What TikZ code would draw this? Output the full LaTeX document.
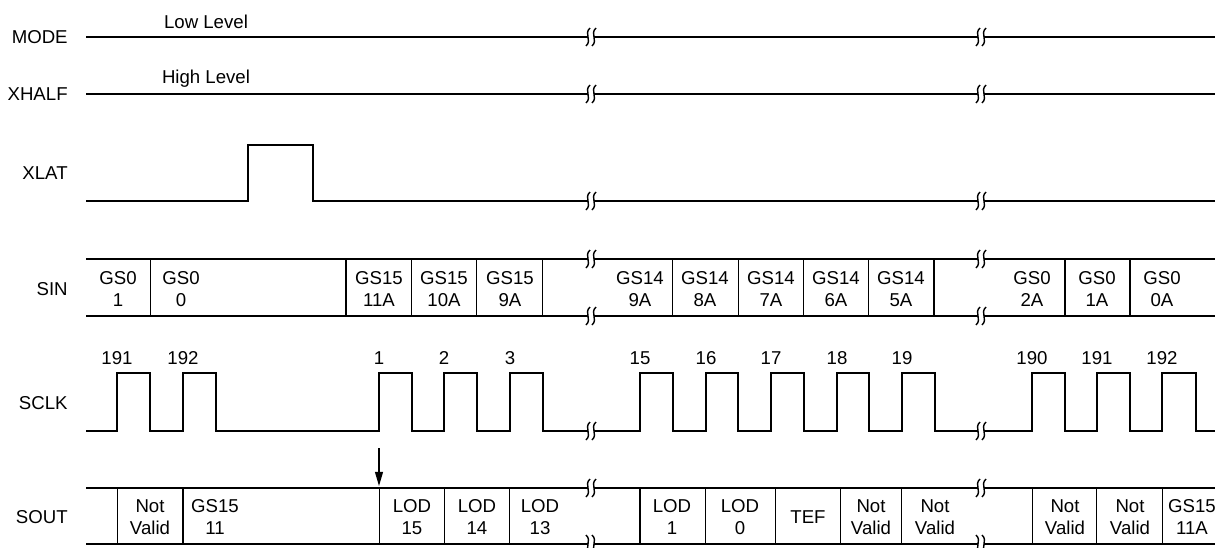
\documentclass[tikz,border=0pt]{standalone}
\usepackage{fontspec}
\setmainfont{Liberation Sans}
\usetikzlibrary{arrows.meta}

\begin{document}
\begin{tikzpicture}
[x=0.02cm, y=-0.02cm, font=\fontsize{10.6}{12.5}\selectfont,
    signal/.style={line width=1.4pt, line join=miter},
    divider/.style={line width=0.7pt},
    sname/.style={anchor=east, inner sep=0pt},
    cell/.style={align=center, inner sep=0pt},
    brk/.pic={
        \fill[white] (-3,-2.6) rectangle (3,2.6);
        \foreach \s in {-3,3}
            \draw[line width=0.8pt] (\s+2,-9) .. controls (\s-4.5,-3) and (\s+4.5,3) .. (\s-2,9);
    },
    ]
    \useasboundingbox (0,0) rectangle (1215,548);

    % signal names
    \node[sname] (mode)  at (68,37)  {MODE};
    \node[sname] (xhalf) at (68,94)  {XHALF};
    \node[sname] (xlat)  at (68,173) {XLAT};
    \node[sname] (sin)   at (68,289) {SIN};
    \node[sname] (sclk)  at (68,403) {SCLK};
    \node[sname] (sout)  at (68,517) {SOUT};

    % MODE, XHALF
    \draw[signal] (86,37) -- (1215,37);
    \node (low) at (206,22) {Low Level};
    \draw[signal] (86,94) -- (1215,94);
    \node (high) at (206,79) {High Level};

    % XLAT
    \draw[signal] (86,201) -- (248,201) -- (248,145) -- (313,145) -- (313,201) -- (1215,201);

    % SIN
    \draw[signal] (86,259) -- (1215,259);
    \draw[signal] (86,316) -- (1215,316);
    \foreach \x in {150.7,346,411.7,476.7,542.3,672.7,738.3,803.3,868.3,934,1065,1130}
        \draw[divider] (\x,259) -- (\x,316);
    \foreach \x/\t [count=\i] in {118/{GS0\\1}, 181/{GS0\\0}, 379/{GS15\\11A}, 444/{GS15\\10A},
        510/{GS15\\9A}, 640/{GS14\\9A}, 705/{GS14\\8A}, 771/{GS14\\7A}, 836/{GS14\\6A},
        901/{GS14\\5A}, 1032/{GS0\\2A}, 1097/{GS0\\1A}, 1162/{GS0\\0A}}
        \node[cell] (sin\i) at (\x,289) {\t};

    % SCLK
    \draw[signal] (86,431)
        \foreach \r/\f in {117/150, 183/216, 379/412, 444/477, 510/543, 640/673, 706/738,
            771/804, 837/869, 902/935, 1032/1065, 1097/1130, 1162/1196}
        { -- (\r,431) -- (\r,373) -- (\f,373) -- (\f,431) } -- (1215,431);
    \foreach \r/\t [count=\i] in {117/191, 183/192, 379/1, 444/2, 510/3, 640/15, 706/16,
        771/17, 837/18, 902/19, 1032/190, 1097/191, 1162/192}
        \node (clk\i) at (\r,358) {\t};

    % SOUT
    \draw[signal] (86,488) -- (1215,488);
    \draw[signal] (86,544) -- (1215,544);
    \foreach \x in {117.7,183,379.3,444.3,509.3,640,705.5,775.5,840.7,901.3,1032.3,1096.7,1162.3}
        \draw[divider] (\x,488) -- (\x,544);
    \foreach \x/\t [count=\i] in {150/{Not\\Valid}, 215/{GS15\\11}, 412/{LOD\\15}, 477/{LOD\\14},
        540/{LOD\\13}, 672/{LOD\\1}, 740/{LOD\\0}, 808/{TEF}, 871/{Not\\Valid},
        935/{Not\\Valid}, 1065/{Not\\Valid}, 1130/{Not\\Valid}, 1192/{GS15\\11A}}
        \node[cell] (sout\i) at (\x,517) {\t};

    \coordinate (arrtop) at (379,448);
    \coordinate (arrtip) at (379,486);
    \draw[divider, -{Triangle[length=8pt, width=4.5pt]}] (arrtop) -- (arrtip);

    % breaks
    \foreach \y in {37,94,201,259,316,431,488}
        \foreach \x in {591,981}
            \pic at (\x,\y) {brk};
    \foreach \x in {591,981}
        \pic[xscale=-1] at (\x,544) {brk};
\end{tikzpicture}
\end{document}
